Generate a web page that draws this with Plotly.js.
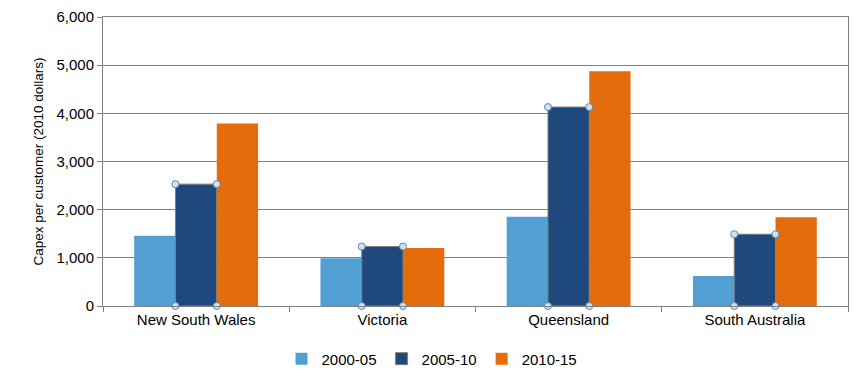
<!DOCTYPE html>
<html>
<head>
<meta charset="utf-8">
<script src="https://cdn.plot.ly/plotly-3.0.1.min.js"></script>
<style>html,body{margin:0;padding:0;background:#fff;}#chart{width:864px;height:381px;}</style>
</head>
<body>
<div id="chart"></div>
<script>
var categories = ["New South Wales", "Victoria", "Queensland", "South Australia"];
var seriesNames = ["2000-05", "2005-10", "2010-15"];
var s2000_05 = [1460, 990, 1855, 625];
var s2005_10 = [2530, 1235, 4130, 1490];
var s2010_15 = [3790, 1205, 4875, 1840];
var yTicks = [0, 1000, 2000, 3000, 4000, 5000, 6000];

var colors = ["#529fd3", "#1f497d", "#e46c0a"];
var bargap = 0.335;
var font = "Liberation Sans, Arial, sans-serif";

var traces = [
  {type: "bar", name: seriesNames[0], x: categories, y: s2000_05, marker: {color: colors[0], line: {width: 0}}},
  {type: "bar", name: seriesNames[1], x: categories, y: s2005_10, marker: {color: colors[1], line: {color: "#7f7f7f", width: 1}}},
  {type: "bar", name: seriesNames[2], x: categories, y: s2010_15, marker: {color: colors[2], line: {width: 0}}}
];

// selection handles on the middle series, derived from the data and bar geometry
var half = (1 - bargap) / 3 / 2;
var hx = [], hy = [];
s2005_10.forEach(function (v, i) {
  hx.push(i - half, i + half, i - half, i + half);
  hy.push(v, v, 0, 0);
});
traces.push({
  type: "scatter", mode: "markers", x: hx, y: hy, xaxis: "x2", showlegend: false, hoverinfo: "skip",
  cliponaxis: false,
  marker: {size: 7, color: "#cfe2f0", line: {color: "#5d87b0", width: 1}}
});

var layout = {
  width: 864, height: 381,
  margin: {l: 103, r: 16, t: 17, b: 75},
  paper_bgcolor: "#fff", plot_bgcolor: "#fff",
  font: {family: font, size: 15, color: "#000"},
  barmode: "group", bargap: bargap, bargroupgap: 0,
  showlegend: true,
  legend: {orientation: "h", x: 0.5, xref: "container", xanchor: "center",
           y: 0.058, yref: "container", yanchor: "middle",
           font: {size: 15}, itemwidth: 30, traceorder: "normal"},
  xaxis: {
    type: "category", showline: true, linecolor: "#808080", linewidth: 1, mirror: true,
    ticks: "outside", tickson: "boundaries", ticklen: 5, tickcolor: "#808080",
    showgrid: false, tickfont: {size: 15}, fixedrange: true, automargin: false
  },
  xaxis2: {overlaying: "x", range: [-0.5, categories.length - 0.5], visible: false, fixedrange: true},
  yaxis: {
    range: [0, 6000], tickvals: yTicks, tickformat: ",",
    showline: true, linecolor: "#808080", linewidth: 1, mirror: true,
    ticks: "outside", ticklen: 5, tickcolor: "#808080",
    showgrid: true, gridcolor: "#808080", gridwidth: 1, zeroline: false,
    tickfont: {size: 15}, automargin: false,
    title: {text: "Capex per customer (2010 dollars)", font: {size: 13.5}, standoff: 9},
    fixedrange: true
  }
};

Plotly.newPlot("chart", traces, layout, {displayModeBar: false, staticPlot: true});
</script>
</body>
</html>
